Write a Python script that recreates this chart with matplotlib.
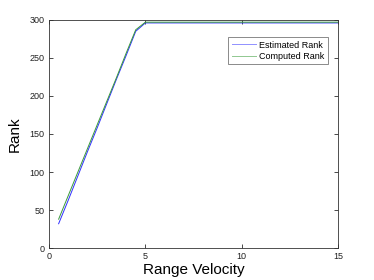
import matplotlib
matplotlib.use('Agg')
import matplotlib.pyplot as plt

# 数据
velocity = [0.5, 1, 1.5, 2, 2.5, 3, 3.5, 4, 4.5, 5, 6, 8, 10, 12, 15]
estimated = [32, 63, 95, 127, 158, 190, 222, 253, 285, 296, 296, 296, 296, 296, 296]
computed = [38, 69, 100, 131, 162, 193, 224, 256, 287, 297, 297, 297, 297, 297, 297]

plt.rcParams['font.family'] = ['Liberation Sans', 'DejaVu Sans']

fig = plt.figure(figsize=(3.74, 2.8), dpi=100)
ax = fig.add_axes([0.131, 0.114, 0.773, 0.815])

ax.plot(velocity, estimated, color='#3030ff', lw=0.7, label='Estimated Rank')
ax.plot(velocity, computed, color='#3a9a3a', lw=0.7, label='Computed Rank')

ax.set_xlim(0, 15)
ax.set_ylim(0, 300)
ax.set_xticks([0, 5, 10, 15])
ax.set_yticks([0, 50, 100, 150, 200, 250, 300])
ax.tick_params(direction='in', top=True, right=True, labelsize=6.5, length=3, width=0.5, pad=3,
               labelcolor='#222222')
for s in ax.spines.values():
    s.set_linewidth(0.6)
    s.set_color('#333333')

ax.set_xlabel('Range Velocity', fontsize=11, labelpad=1)
ax.set_ylabel('Rank', fontsize=11, labelpad=6)

leg = ax.legend(loc='upper right', bbox_to_anchor=(0.965, 0.925), borderaxespad=0, fontsize=6.5,
                fancybox=False, edgecolor='#555555', handlelength=2.6, handletextpad=0.4,
                borderpad=0.4, labelspacing=0.25)
leg.get_frame().set_linewidth(0.6)
leg.get_lines()[0].set_color('#9090ff')
leg.get_lines()[1].set_color('#90c890')

fig.savefig('out.png', dpi=100)
